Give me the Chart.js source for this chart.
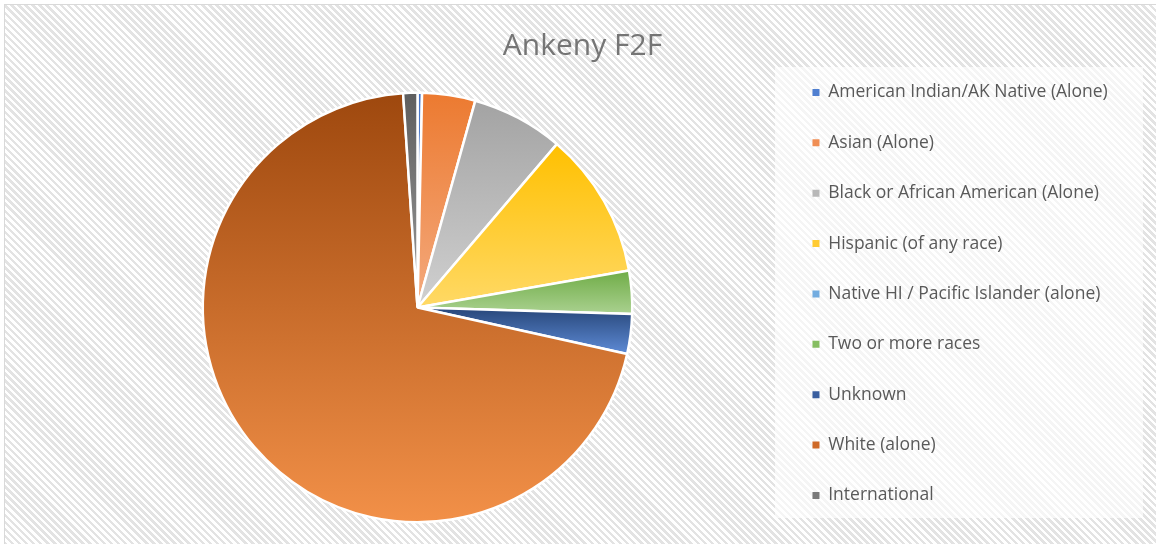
<!DOCTYPE html>
<html>
<head>
<meta charset="utf-8">
<script src="https://cdn.jsdelivr.net/npm/chart.js@4.4.1/dist/chart.umd.min.js"></script>
<style>
  html, body { margin: 0; padding: 0; background: #ffffff; overflow: hidden; }
  #wrap { position: relative; width: 1156px; height: 544px; overflow: hidden; }
  #bg {
    position: absolute; left: 4px; top: 4px; width: 1200px; height: 600px;
    border: 1px solid #d9d9d9;
    background: repeating-linear-gradient(45deg, #ffffff 0px, #ffffff 2.5px, #e3e3e3 2.5px, #e3e3e3 5px);
  }
  #legendBox {
    position: absolute; left: 775px; top: 67px; width: 368px; height: 451px;
    background: rgba(255,255,255,0.65);
  }
  canvas { position: absolute; left: 0; top: 0; }
</style>
</head>
<body>
<div id="wrap">
  <div id="bg"></div>
  <div id="legendBox"></div>
  <canvas id="c" width="1156" height="544"></canvas>
</div>
<script>
// ---- data ----
const chartTitle = 'Ankeny F2F';
const categories = [
  'American Indian/AK Native (Alone)',
  'Asian (Alone)',
  'Black or African American (Alone)',
  'Hispanic (of any race)',
  'Native HI / Pacific Islander (alone)',
  'Two or more races',
  'Unknown',
  'White (alone)',
  'International'
];
const shares = [0.34, 4.0, 6.9, 11.0, 0, 3.24, 3.0, 70.45, 1.07];

// ---- styles ----
const topColors    = ['#4472C4', '#EC7A30', '#A3A3A3', '#FFC000', '#5B9BD5', '#6FAC46', '#274679', '#9E480E', '#5E5E5E'];
const bottomColors = ['#7FA2E0', '#F4AA7E', '#D0D0D0', '#FFD966', '#9DC3E6', '#AAD190', '#5E8BD6', '#F29048', '#9A9A9A'];
const legendColors = ['#4F7FD0', '#F08E54', '#B8B8B8', '#FFCB33', '#74ADE0', '#86BE62', '#3A5FA0', '#CF6A28', '#7A7A7A'];

const PIE_RADIUS = 214.75;
const total = shares.reduce((a, b) => a + b, 0);

function sliceFill(c) {
  const chart = c.chart;
  const area = chart.chartArea;
  const i = c.dataIndex;
  if (!area || c.type !== 'data') return topColors[i];
  let before = 0;
  for (let k = 0; k < i; k++) before += shares[k];
  const a0 = -Math.PI / 2 + 2 * Math.PI * before / total;
  const a1 = a0 + 2 * Math.PI * shares[i] / total;
  const cy = (area.top + area.bottom) / 2;
  const r = PIE_RADIUS;
  let ys = [cy, cy + r * Math.sin(a0), cy + r * Math.sin(a1)];
  const ext = [[-Math.PI / 2, -1], [Math.PI / 2, 1], [3 * Math.PI / 2, -1]];
  ext.forEach(([ang, s]) => { if (ang > a0 && ang < a1) ys.push(cy + s * r); });
  let yMin = Math.min(...ys), yMax = Math.max(...ys);
  if (yMax - yMin < 1) yMax = yMin + 1;
  const g = chart.ctx.createLinearGradient(0, yMin, 0, yMax);
  g.addColorStop(0, topColors[i]);
  g.addColorStop(1, bottomColors[i]);
  return g;
}

const LEG_PAD = 32.875;

new Chart(document.getElementById('c'), {
  type: 'pie',
  data: {
    labels: categories,
    datasets: [{
      data: shares,
      backgroundColor: sliceFill,
      borderColor: '#ffffff',
      borderWidth: 2.5,
      radius: PIE_RADIUS
    }]
  },
  options: {
    responsive: false,
    animation: false,
    devicePixelRatio: 1,
    layout: { padding: { left: 55.4, right: 46.4, top: 0, bottom: 0 } },
    plugins: {
      tooltip: { enabled: false },
      title: {
        display: true,
        text: chartTitle,
        color: '#757575',
        font: { family: "'Open Sans'", size: 30, weight: 'normal', lineHeight: 1 },
        padding: { top: 31.5, bottom: 9.5 }
      },
      legend: {
        display: true,
        position: 'right',
        align: 'start',
        maxWidth: 330,
        title: {
          display: true,
          text: '',
          font: { size: 10, lineHeight: 1 },
          padding: { top: 40.8, bottom: 0 }
        },
        labels: {
          boxWidth: 7,
          boxHeight: 7,
          padding: LEG_PAD,
          color: '#595959',
          font: { family: "'Open Sans'", size: 17.5 },
          generateLabels: (chart) => categories.map((t, i) => ({
            text: t,
            fillStyle: legendColors[i],
            strokeStyle: legendColors[i],
            fontColor: '#595959',
            lineWidth: 0,
            hidden: false,
            index: i
          }))
        }
      }
    }
  }
});
</script>
</body>
</html>
